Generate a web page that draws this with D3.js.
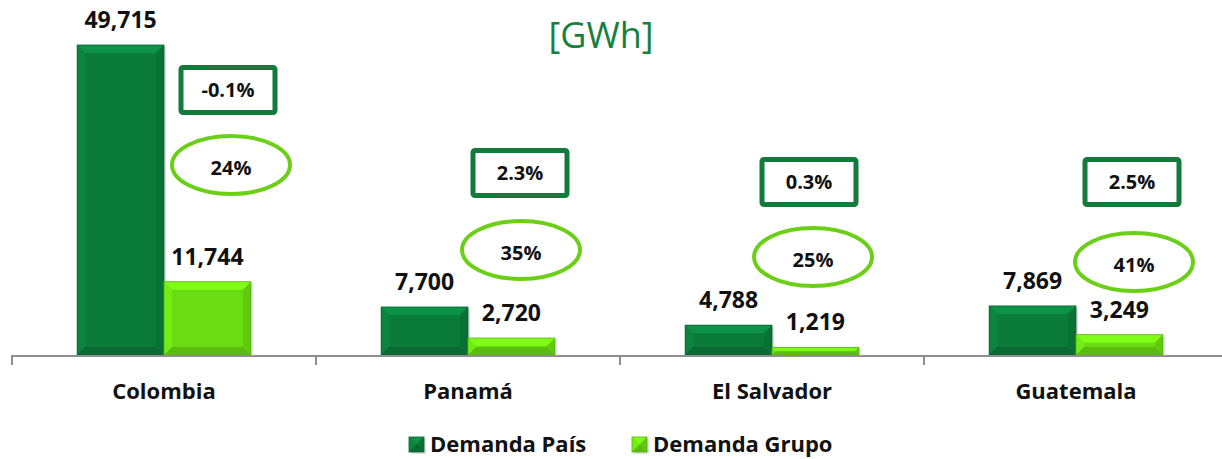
<!DOCTYPE html>
<html>
<head>
<meta charset="utf-8">
<script src="https://cdn.jsdelivr.net/npm/d3@7"></script>
<style>
  body { margin: 0; background: #fff; }
  text { font-family: "Open Sans", Lato, sans-serif; }
</style>
</head>
<body>
<div id="chart"></div>
<script>
// data
const countries = ["Colombia", "Panamá", "El Salvador", "Guatemala"];
const demandaPais = [49715, 7700, 4788, 7869];
const demandaGrupo = [11744, 2720, 1219, 3249];
const crecimiento = ["-0.1%", "2.3%", "0.3%", "2.5%"];
const participacion = ["24%", "35%", "25%", "41%"];
const seriesNames = ["Demanda País", "Demanda Grupo"];

// annotation layout, offsets from the category centre (px)
const boxDx = [64, 52, 37, 56];
const boxTop = [65, 148, 157, 157];
const ellDx = [67, 53, 41, 58];
const ellY = [165, 250, 257, 262];

const W = 1222, H = 459;
const darkGreen = "#0b7b3b", lightGreen = "#6bdc12";
const boxStroke = "#127a3a", ellStroke = "#6ccf17";

const svg = d3.select("#chart").append("svg")
    .attr("width", W)
    .attr("height", H);

const x = d3.scaleBand()
    .domain(countries)
    .range([12, 1228]);

const sub = d3.scaleBand()
    .domain(seriesNames)
    .range([0, x.bandwidth()])
    .paddingInner(0)
    .paddingOuter(0.75);

const y = d3.scaleLinear()
    .domain([0, 49715])
    .range([355, 45]);

// title
svg.append("text")
    .attr("x", 601).attr("y", 48)
    .attr("text-anchor", "middle")
    .attr("font-family", "Lato, sans-serif")
    .attr("font-size", 36)
    .attr("fill", "#17803d")
    .text("[GWh]");

// bevelled bar
function bevelBar(g, x0, y0, w, h, color) {
    const b = Math.min(8, h / 2.2, w / 2.2);
    const c = d3.color(color);
    g.append("rect").attr("x", x0 + 2).attr("y", y0 + 2).attr("width", w).attr("height", h)
        .attr("fill", "#000").attr("opacity", 0.12);
    g.append("rect").attr("x", x0).attr("y", y0).attr("width", w).attr("height", h).attr("fill", color);
    const faces = [
        [[x0, y0], [x0 + w, y0], [x0 + w - b, y0 + b], [x0 + b, y0 + b], c.brighter(0.5)],
        [[x0, y0], [x0 + b, y0 + b], [x0 + b, y0 + h - b], [x0, y0 + h], c.brighter(0.2)],
        [[x0 + w, y0], [x0 + w, y0 + h], [x0 + w - b, y0 + h - b], [x0 + w - b, y0 + b], c.darker(0.25)],
        [[x0, y0 + h], [x0 + b, y0 + h - b], [x0 + w - b, y0 + h - b], [x0 + w, y0 + h], c.darker(0.45)]
    ];
    faces.forEach(f => {
        g.append("polygon")
            .attr("points", f.slice(0, 4).map(p => p.join(",")).join(" "))
            .attr("fill", f[4]);
    });
    g.append("rect").attr("x", x0).attr("y", y0).attr("width", w).attr("height", h)
        .attr("fill", "none").attr("stroke", c.darker(0.6)).attr("stroke-width", 0.8);
}

const groups = svg.selectAll("g.cat")
    .data(countries)
    .enter().append("g")
    .attr("class", "cat");

groups.each(function(c, i) {
    const g = d3.select(this);
    const mid = x(c) + x.bandwidth() / 2;
    const vals = [demandaPais[i], demandaGrupo[i]];
    const cols = [darkGreen, lightGreen];
    vals.forEach((v, j) => {
        const bx = x(c) + sub(seriesNames[j]);
        bevelBar(g, bx, y(v), sub.bandwidth(), y(0) - y(v), cols[j]);
        g.append("text")
            .attr("x", bx + sub.bandwidth() / 2)
            .attr("y", y(v) - 17)
            .attr("text-anchor", "middle")
            .attr("font-size", 23)
            .attr("font-weight", "bold")
            .attr("fill", "#111")
            .text(d3.format(",")(v));
    });

    // growth box
    const cx = mid + boxDx[i];
    g.append("rect")
        .attr("x", cx - 47).attr("y", boxTop[i] + 2.5)
        .attr("width", 94).attr("height", 45)
        .attr("rx", 2)
        .attr("fill", "#fff")
        .attr("stroke", boxStroke)
        .attr("stroke-width", 5);
    g.append("text")
        .attr("x", cx).attr("y", boxTop[i] + 32)
        .attr("text-anchor", "middle")
        .attr("font-size", 20)
        .attr("font-weight", "bold")
        .attr("fill", "#111")
        .text(crecimiento[i]);

    // share ellipse
    const ex = mid + ellDx[i];
    g.append("ellipse")
        .attr("cx", ex).attr("cy", ellY[i])
        .attr("rx", 59).attr("ry", 29)
        .attr("fill", "#fff")
        .attr("stroke", ellStroke)
        .attr("stroke-width", 4);
    g.append("text")
        .attr("x", ex).attr("y", ellY[i] + 10)
        .attr("text-anchor", "middle")
        .attr("font-size", 20)
        .attr("font-weight", "bold")
        .attr("fill", "#111")
        .text(participacion[i]);
});

// axis
const axis = svg.append("g");
axis.append("line")
    .attr("x1", 12).attr("x2", W)
    .attr("y1", y(0) + 1).attr("y2", y(0) + 1)
    .attr("stroke", "#8f8f8f").attr("stroke-width", 2);
axis.selectAll("line.tick")
    .data(countries)
    .enter().append("line")
    .attr("x1", d => x(d)).attr("x2", d => x(d))
    .attr("y1", y(0)).attr("y2", y(0) + 10)
    .attr("stroke", "#8f8f8f").attr("stroke-width", 2);
axis.selectAll("text")
    .data(countries)
    .enter().append("text")
    .attr("x", d => x(d) + x.bandwidth() / 2)
    .attr("y", 399)
    .attr("text-anchor", "middle")
    .attr("font-size", 22)
    .attr("font-weight", "bold")
    .attr("fill", "#111")
    .text(d => d);

// legend
const legX = [409, 632];
const legend = svg.selectAll("g.leg")
    .data(seriesNames)
    .enter().append("g")
    .attr("class", "leg");
legend.each(function(s, j) {
    const g = d3.select(this);
    bevelBar(g, legX[j], 437, 15, 15, [darkGreen, lightGreen][j]);
    g.append("text")
        .attr("x", legX[j] + 21).attr("y", 452)
        .attr("font-size", 22)
        .attr("font-weight", "bold")
        .attr("fill", "#111")
        .text(s);
});
</script>
</body>
</html>
